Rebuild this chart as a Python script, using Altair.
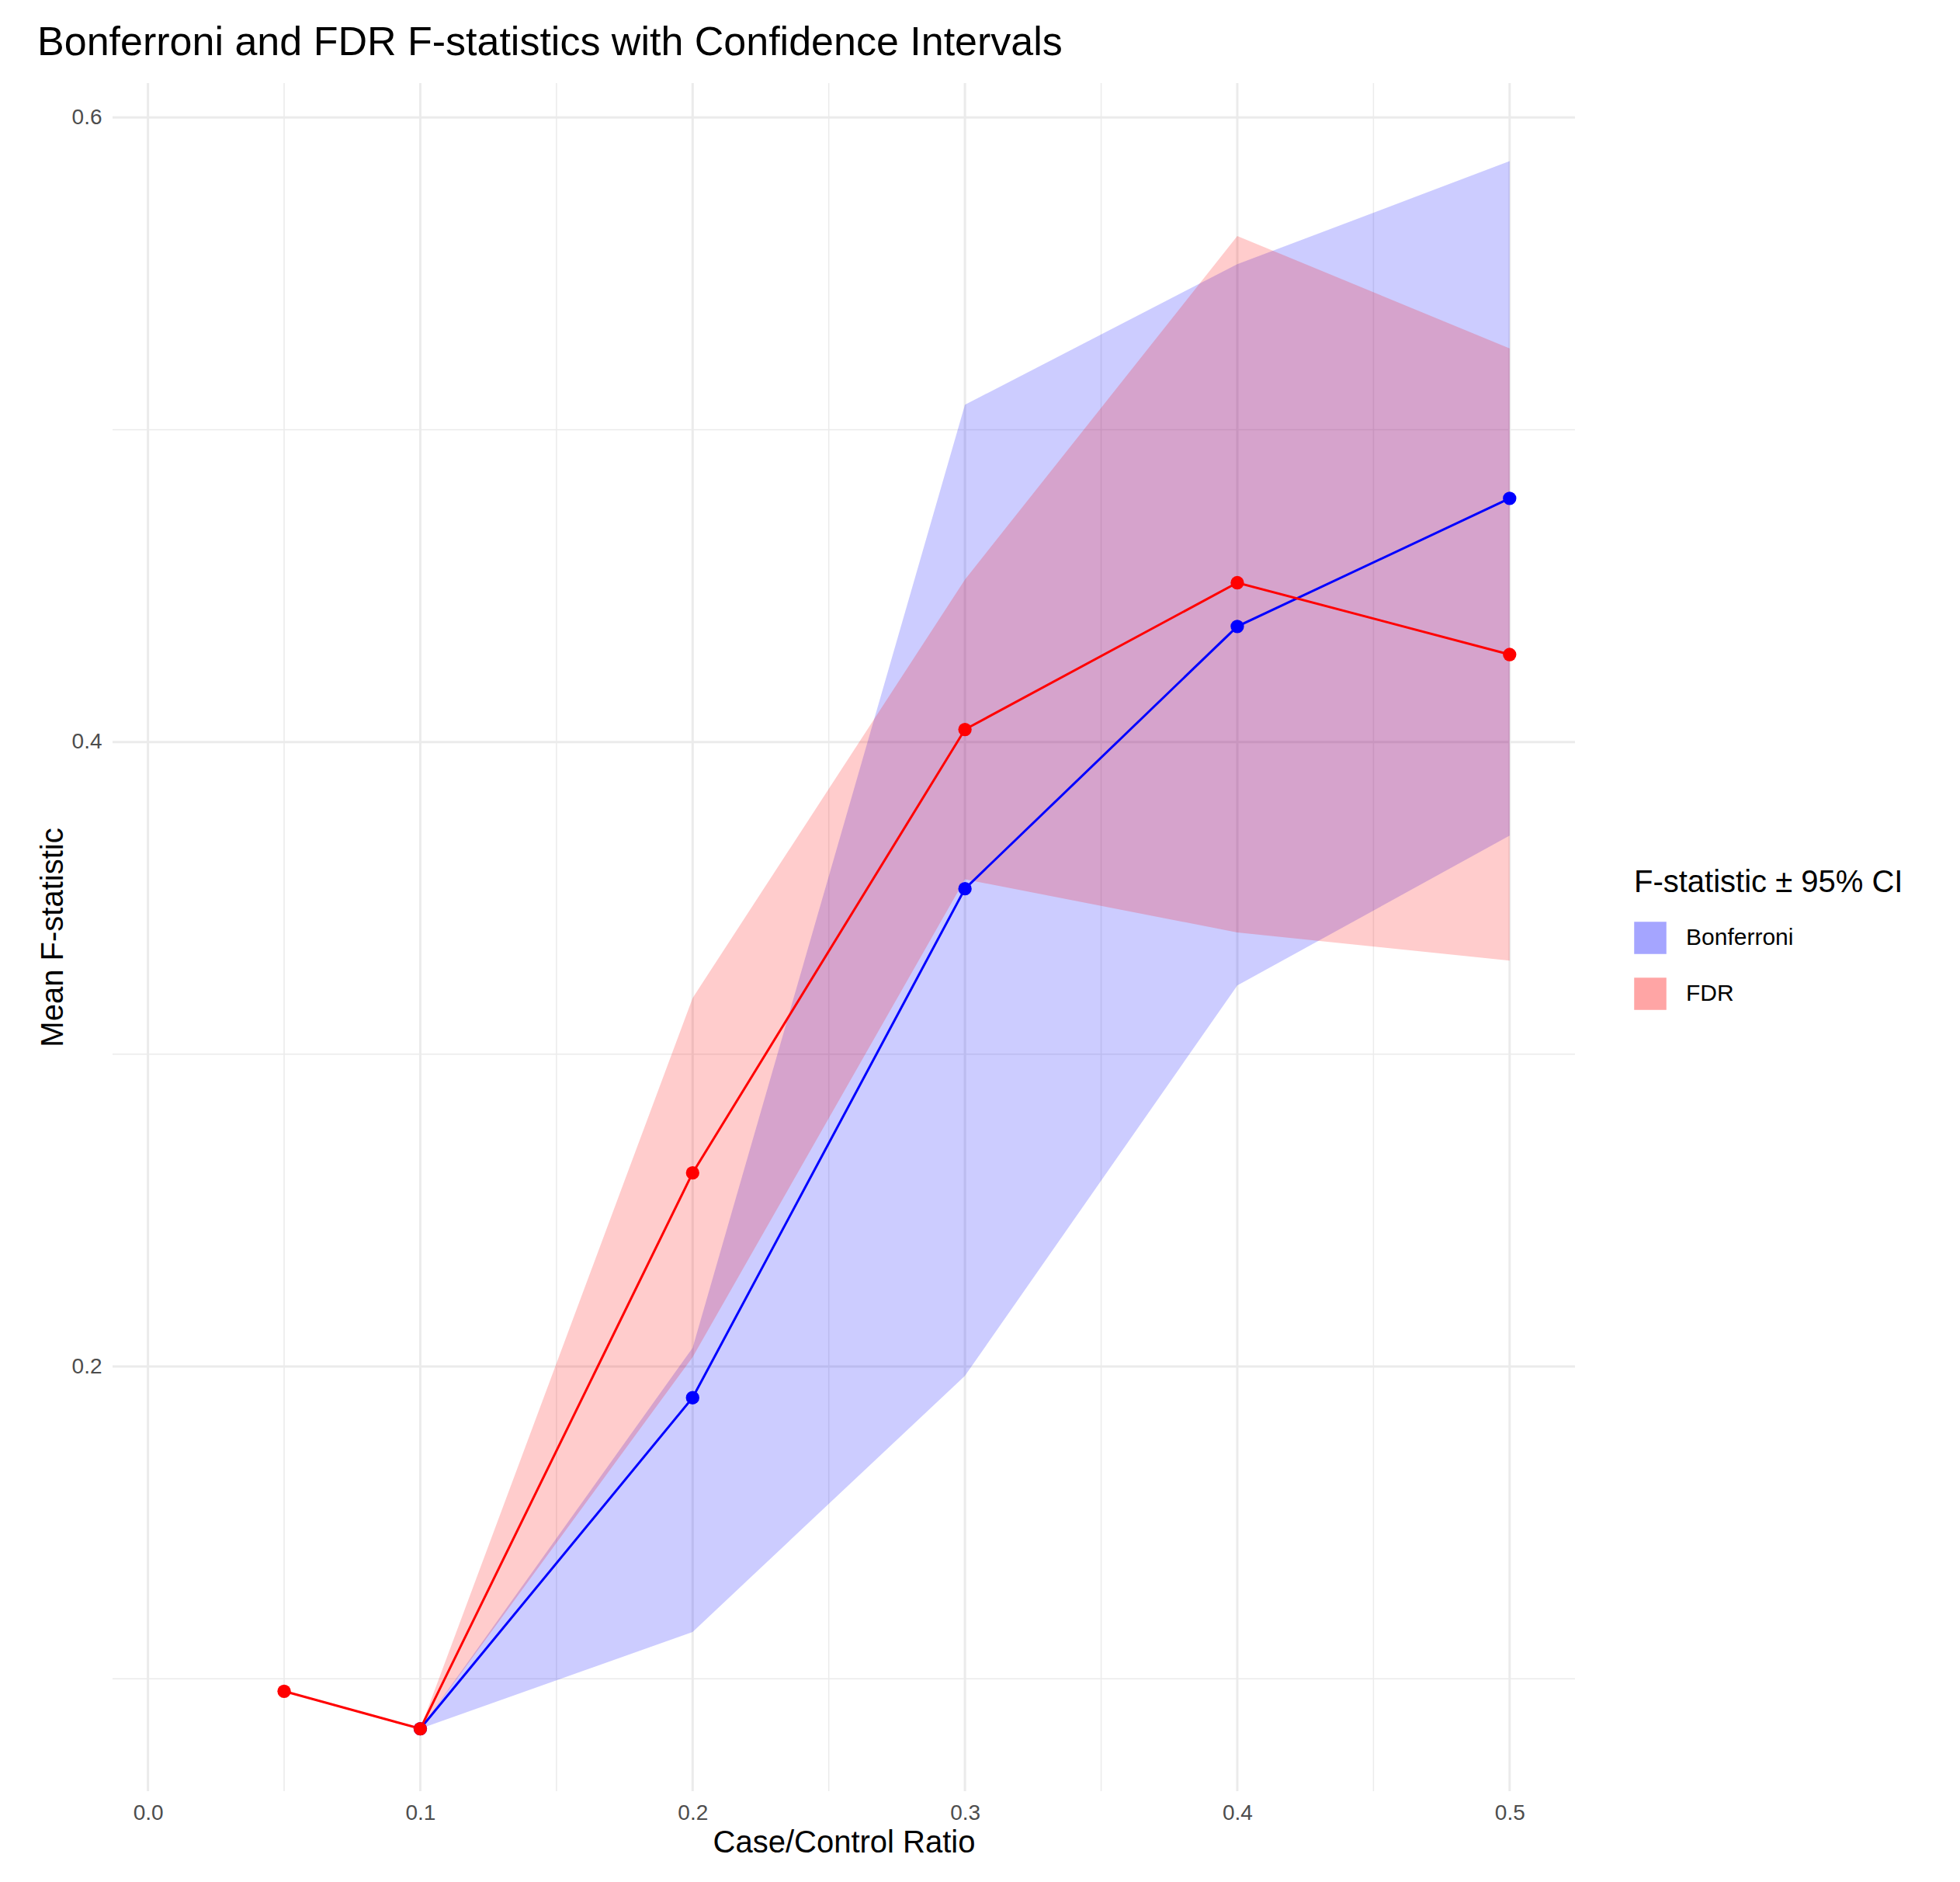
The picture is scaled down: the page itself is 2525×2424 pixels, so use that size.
import altair as alt
import pandas as pd

methods = ["Bonferroni"] * 5 + ["FDR"] * 6
ratio = [0.1, 0.2, 0.3, 0.4, 0.5, 0.05, 0.1, 0.2, 0.3, 0.4, 0.5]
mean_f = [0.084, 0.190, 0.353, 0.437, 0.478, 0.096, 0.084, 0.262, 0.404, 0.451, 0.428]
ci_low = [0.084, 0.115, 0.197, 0.322, 0.370, 0.096, 0.084, 0.203, 0.356, 0.339, 0.330]
ci_high = [0.084, 0.206, 0.508, 0.553, 0.586, 0.096, 0.084, 0.318, 0.452, 0.562, 0.526]

x_major = [0.0, 0.1, 0.2, 0.3, 0.4, 0.5]
x_minor = [0.05, 0.15, 0.25, 0.35, 0.45]
y_major = [0.2, 0.4, 0.6]
y_minor = [0.1, 0.3, 0.5]

df = pd.DataFrame({"method": methods, "ratio": ratio, "mean": mean_f,
                   "low": ci_low, "high": ci_high})
ribbon = df[df["ratio"] >= 0.1]

font = "Liberation Sans"
xs = alt.Scale(domain=[-0.013, 0.524], nice=False, zero=False)
ys = alt.Scale(domain=[0.064, 0.611], nice=False, zero=False)
col = alt.Scale(domain=["Bonferroni", "FDR"], range=["#0000FF", "#FF0000"])
grid = "#EBEBEB"

xminor = alt.Chart(pd.DataFrame({"v": x_minor})).mark_rule(color=grid, strokeWidth=1.5).encode(
    x=alt.X("v:Q", scale=xs))
yminor = alt.Chart(pd.DataFrame({"v": y_minor})).mark_rule(color=grid, strokeWidth=1.5).encode(
    y=alt.Y("v:Q", scale=ys))
xmaj = alt.Chart(pd.DataFrame({"v": x_major})).mark_rule(color=grid, strokeWidth=3).encode(
    x=alt.X("v:Q", scale=xs))
ymaj = alt.Chart(pd.DataFrame({"v": y_major})).mark_rule(color=grid, strokeWidth=3).encode(
    y=alt.Y("v:Q", scale=ys))

area = alt.Chart(ribbon).mark_area(opacity=0.2).encode(
    x=alt.X("ratio:Q", scale=xs, title="Case/Control Ratio",
            axis=alt.Axis(values=x_major, format=".1f", grid=False, domain=False, ticks=False)),
    y=alt.Y("low:Q", scale=ys, title="Mean F-statistic",
            axis=alt.Axis(values=y_major, format=".1f", grid=False, domain=False, ticks=False)),
    y2="high:Q",
    color=alt.Color("method:N", scale=col, title="F-statistic ± 95% CI"),
)
line = alt.Chart(df).mark_line(strokeWidth=3).encode(
    x=alt.X("ratio:Q", scale=xs), y=alt.Y("mean:Q", scale=ys),
    color=alt.Color("method:N", scale=col))
pts = alt.Chart(df).mark_circle(size=300, opacity=1).encode(
    x=alt.X("ratio:Q", scale=xs), y=alt.Y("mean:Q", scale=ys),
    color=alt.Color("method:N", scale=col))

chart = alt.layer(xminor, yminor, xmaj, ymaj, area, line, pts).properties(
    width=1884, height=2200,
    padding={"left": 40, "top": 20, "right": 10, "bottom": 10},
    title="Bonferroni and FDR F-statistics with Confidence Intervals",
).configure_view(stroke=None).configure_title(
    font=font, fontSize=52, fontWeight="normal", anchor="start", color="black", offset=24
).configure_axis(
    labelFont=font, labelFontSize=28, labelColor="#4D4D4D", titleFont=font,
    titleFontSize=40, titleFontWeight="normal", titleColor="black", labelPadding=14
).configure_legend(
    titleFont=font, titleFontSize=40, titleFontWeight="normal", titleColor="black",
    labelFont=font, labelFontSize=30, symbolSize=1600, symbolType="square",
    symbolOpacity=0.35, orient="none", legendX=1960, legendY=1010, padding=0,
    rowPadding=26, titlePadding=30, titleLimit=0, labelLimit=0, labelOffset=25
)

chart.save("out.html", embed_options={"renderer": "svg", "actions": False})
